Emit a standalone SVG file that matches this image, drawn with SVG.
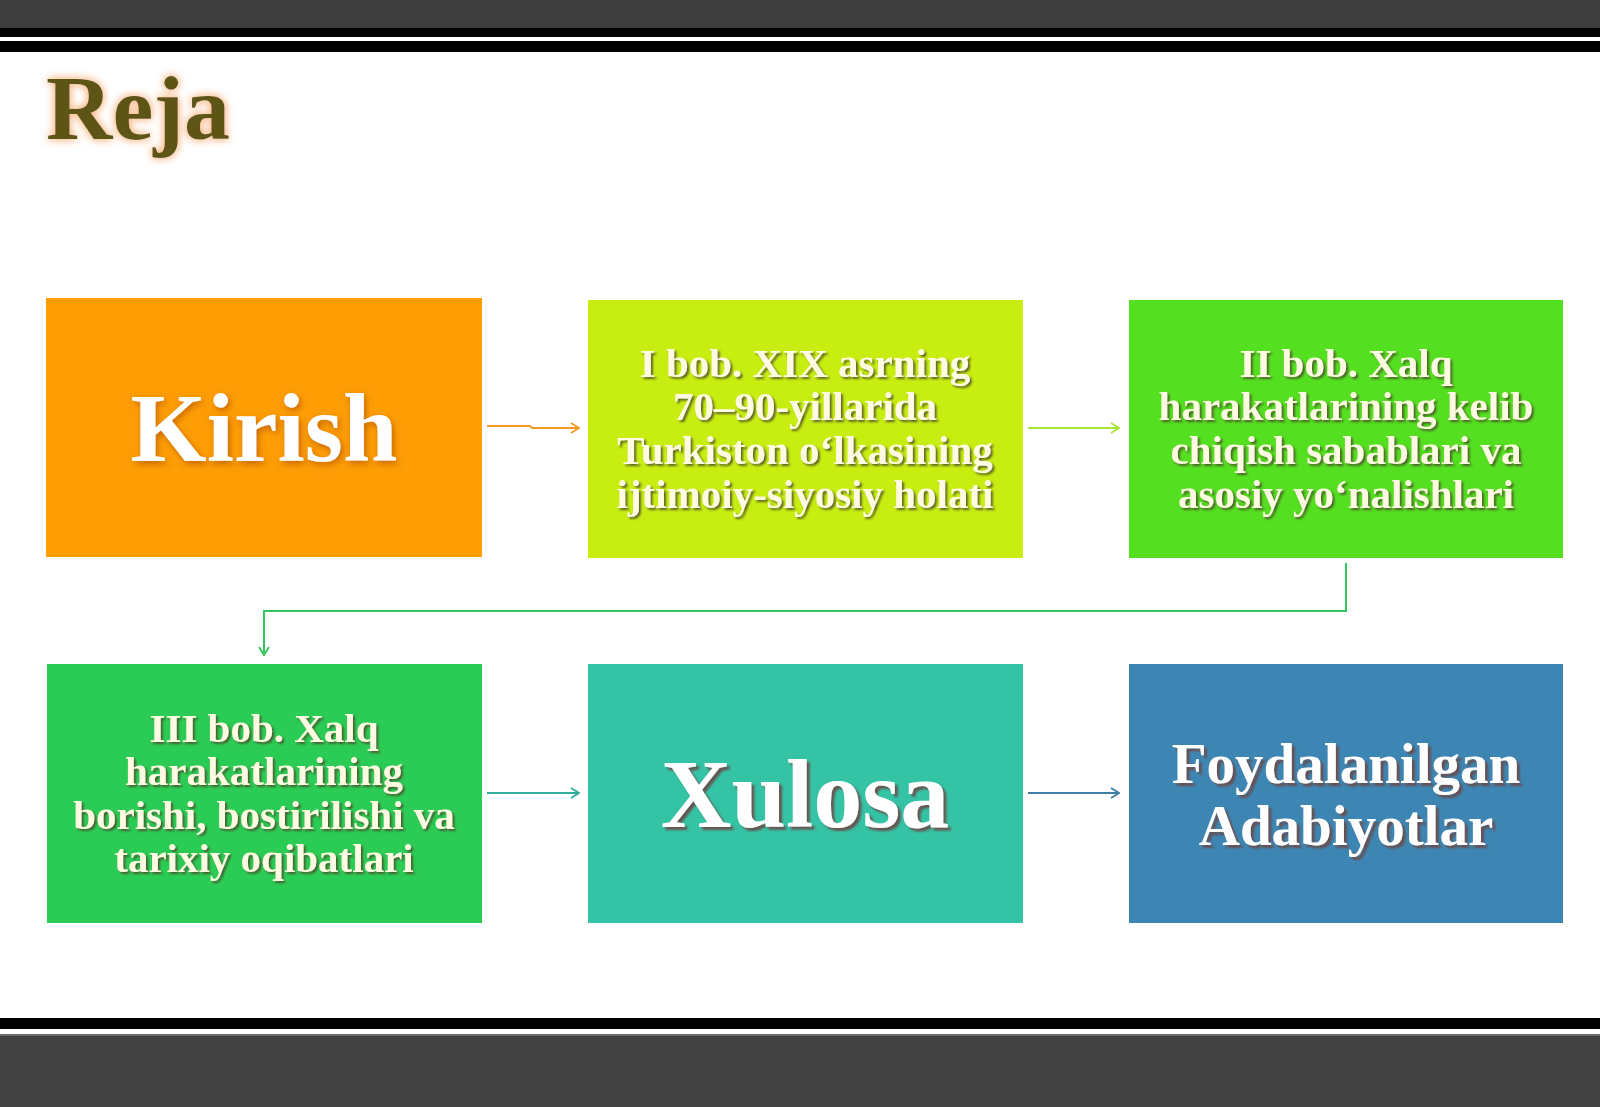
<svg xmlns="http://www.w3.org/2000/svg" width="1600" height="1107" viewBox="0 0 1600 1107">
<defs>
<style>
.t{font-family:"Liberation Serif","Times New Roman",serif;font-weight:bold;text-anchor:middle}
.big{font-size:98px;fill:#ffffff}
.ch{font-size:41px;fill:#fffbe2}
.lb{font-size:57px;fill:#ffffff}
.con{fill:none;stroke-width:2}
</style>
<filter id="glowTitle" x="-20%" y="-20%" width="140%" height="140%">
<feGaussianBlur in="SourceAlpha" stdDeviation="4" result="b"/>
<feFlood flood-color="#f7b98a" flood-opacity="0.9"/>
<feComposite in2="b" operator="in" result="g"/>
<feMerge><feMergeNode in="g"/><feMergeNode in="g"/><feMergeNode in="SourceGraphic"/></feMerge>
</filter>
<filter id="shOrange" x="-20%" y="-20%" width="140%" height="140%">
<feGaussianBlur in="SourceAlpha" stdDeviation="3" result="b"/>
<feOffset in="b" dx="2" dy="3" result="o"/>
<feFlood flood-color="#b85a00" flood-opacity="0.8"/>
<feComposite in2="o" operator="in" result="g"/>
<feMerge><feMergeNode in="g"/><feMergeNode in="SourceGraphic"/></feMerge>
</filter>
<filter id="shDark" x="-20%" y="-20%" width="140%" height="140%">
<feGaussianBlur in="SourceAlpha" stdDeviation="1.2" result="b"/>
<feOffset in="b" dx="2" dy="2" result="o"/>
<feFlood flood-color="#4a4a2a" flood-opacity="0.85"/>
<feComposite in2="o" operator="in" result="g"/>
<feMerge><feMergeNode in="g"/><feMergeNode in="SourceGraphic"/></feMerge>
</filter>
<filter id="shBrown" x="-20%" y="-20%" width="140%" height="140%">
<feGaussianBlur in="SourceAlpha" stdDeviation="1.2" result="b"/>
<feOffset in="b" dx="3" dy="3" result="o"/>
<feFlood flood-color="#6a4a48" flood-opacity="0.9"/>
<feComposite in2="o" operator="in" result="g"/>
<feMerge><feMergeNode in="g"/><feMergeNode in="SourceGraphic"/></feMerge>
</filter>
<marker id="mOr" viewBox="0 0 10 12" refX="9" refY="6" markerWidth="10" markerHeight="12" markerUnits="userSpaceOnUse" orient="auto"><path d="M1,1 L9,6 L1,11" fill="none" stroke="#f39a26" stroke-width="1.8"/></marker>
<marker id="mYg" viewBox="0 0 10 12" refX="9" refY="6" markerWidth="10" markerHeight="12" markerUnits="userSpaceOnUse" orient="auto"><path d="M1,1 L9,6 L1,11" fill="none" stroke="#a8e63a" stroke-width="1.8"/></marker>
<marker id="mGr" viewBox="0 0 10 12" refX="9" refY="6" markerWidth="10" markerHeight="12" markerUnits="userSpaceOnUse" orient="auto"><path d="M1,1 L9,6 L1,11" fill="none" stroke="#33c75a" stroke-width="1.8"/></marker>
<marker id="mTe" viewBox="0 0 10 12" refX="9" refY="6" markerWidth="10" markerHeight="12" markerUnits="userSpaceOnUse" orient="auto"><path d="M1,1 L9,6 L1,11" fill="none" stroke="#2fae9e" stroke-width="1.8"/></marker>
<marker id="mBl" viewBox="0 0 10 12" refX="9" refY="6" markerWidth="10" markerHeight="12" markerUnits="userSpaceOnUse" orient="auto"><path d="M1,1 L9,6 L1,11" fill="none" stroke="#3f7fa6" stroke-width="1.8"/></marker>
</defs>

<rect x="0" y="0" width="1600" height="1107" fill="#ffffff"/>

<g id="frame">
<rect x="0" y="0" width="1600" height="28" fill="#3e3e3e"/>
<rect x="0" y="28" width="1600" height="9" fill="#000000"/>
<rect x="0" y="41" width="1600" height="11" fill="#000000"/>
<rect x="0" y="1018" width="1600" height="11" fill="#000000"/>
<rect x="0" y="1034" width="1600" height="73" fill="#424242"/>
<rect x="0" y="1034" width="1600" height="2" fill="#6a6a6a"/>
</g>

<g id="title">
<text x="46" y="139" font-family="Liberation Serif, Times New Roman, serif" font-weight="bold" font-size="92" fill="#5b5518" filter="url(#glowTitle)">Reja</text>
</g>

<g id="connectors">
<path class="con" stroke="#f39a26" d="M487,426 L530,426 L532,428 L579,428" marker-end="url(#mOr)"/>
<path class="con" stroke="#a8e63a" d="M1028,428 L1119,428" marker-end="url(#mYg)"/>
<path class="con" stroke="#33c75a" d="M1346,563 L1346,611 L264,611 L264,655" marker-end="url(#mGr)"/>
<path class="con" stroke="#2fae9e" d="M487,793 L579,793" marker-end="url(#mTe)"/>
<path class="con" stroke="#3f7fa6" d="M1028,793 L1119,793" marker-end="url(#mBl)"/>
</g>

<g id="kirish">
<rect x="46" y="298" width="436" height="259" fill="#fe9d04"/>
<text class="t big" x="264" y="461" filter="url(#shOrange)">Kirish</text>
</g>

<g id="bob1">
<rect x="588" y="300" width="435" height="258" fill="#c7ee10"/>
<text class="t ch" filter="url(#shDark)"><tspan x="805" y="377">I bob. XIX asrning</tspan><tspan x="805" y="420">70–90-yillarida</tspan><tspan x="805" y="464">Turkiston o‘lkasining</tspan><tspan x="805" y="508">ijtimoiy-siyosiy holati</tspan></text>
</g>

<g id="bob2">
<rect x="1129" y="300" width="434" height="258" fill="#54df20"/>
<text class="t ch" filter="url(#shDark)"><tspan x="1346" y="377">II bob. Xalq</tspan><tspan x="1346" y="420">harakatlarining kelib</tspan><tspan x="1346" y="464">chiqish sabablari va</tspan><tspan x="1346" y="508">asosiy yo‘nalishlari</tspan></text>
</g>

<g id="bob3">
<rect x="47" y="664" width="435" height="259" fill="#2bcc55"/>
<text class="t ch" filter="url(#shDark)"><tspan x="264" y="742">III bob. Xalq</tspan><tspan x="264" y="785">harakatlarining</tspan><tspan x="264" y="829">borishi, bostirilishi va</tspan><tspan x="264" y="872">tarixiy oqibatlari</tspan></text>
</g>

<g id="xulosa">
<rect x="588" y="664" width="435" height="259" fill="#35c3a5"/>
<text class="t big" x="805" y="827" filter="url(#shBrown)">Xulosa</text>
</g>

<g id="adabiyotlar">
<rect x="1129" y="664" width="434" height="259" fill="#3d86b4"/>
<text class="t lb" filter="url(#shBrown)"><tspan x="1346" y="783">Foydalanilgan</tspan><tspan x="1346" y="845">Adabiyotlar</tspan></text>
</g>
</svg>
